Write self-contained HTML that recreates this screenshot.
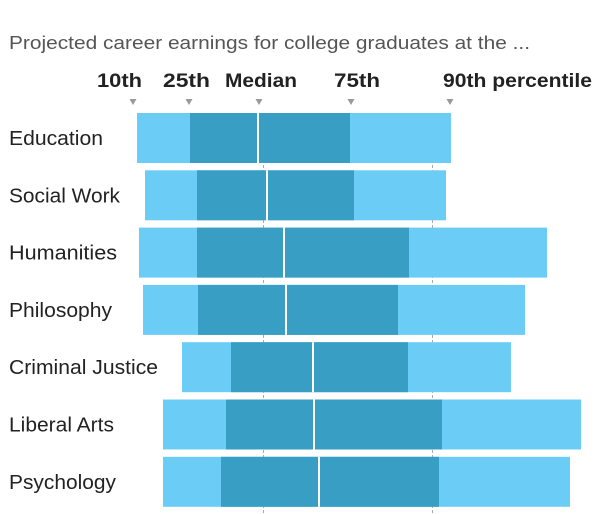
<!DOCTYPE html>
<html><head><style>
body{margin:0;width:600px;height:514px;background:#fff;font-family:"Liberation Sans",sans-serif;overflow:hidden;position:relative}
</style></head><body>
<svg width="600" height="514" style="position:absolute;left:0;top:0" font-family="Liberation Sans, sans-serif">
<text x="9" y="49" font-size="18" fill="#555" textLength="521" lengthAdjust="spacingAndGlyphs">Projected career earnings for college graduates at the ...</text>
<g font-size="19" font-weight="bold" fill="#222">
<text x="97" y="87" textLength="45" lengthAdjust="spacingAndGlyphs">10th</text>
<text x="163" y="87" textLength="47" lengthAdjust="spacingAndGlyphs">25th</text>
<text x="225" y="87" textLength="72" lengthAdjust="spacingAndGlyphs">Median</text>
<text x="334" y="87" textLength="46" lengthAdjust="spacingAndGlyphs">75th</text>
<text x="443" y="87" textLength="149" lengthAdjust="spacingAndGlyphs">90th percentile</text>
</g>
<g fill="#999">
<path d="M129.5,99h7l-3.5,6z"/><path d="M185.5,99h7l-3.5,6z"/><path d="M255.5,99h7l-3.5,6z"/><path d="M347.5,99h7l-3.5,6z"/><path d="M446.5,99h7l-3.5,6z"/>
</g>
<g stroke="#aaa" stroke-dasharray="3,2">
<line x1="263.5" y1="160" x2="263.5" y2="514"/><line x1="432.5" y1="160" x2="432.5" y2="514"/>
</g>
<g id="bars"></g>
<g font-size="20" fill="#222" id="labels"></g>
</svg>
<script>
var d=[["Education",137,190,258,350,451,94],["Social Work",145,197,267,354,446,111],["Humanities",139,197,284,409,547,108],["Philosophy",143,198,286,398,525,103],["Criminal Justice",182,231,313,408,511,149],["Liberal Arts",163,226,314,442,581,105],["Psychology",163,221,319,439,570,107]];
var ns="http://www.w3.org/2000/svg",b=document.getElementById("bars"),l=document.getElementById("labels");
function r(x,y,w,c){var e=document.createElementNS(ns,"rect");e.setAttribute("x",x);e.setAttribute("y",y);e.setAttribute("width",w);e.setAttribute("height",50);e.setAttribute("fill",c);b.appendChild(e);}
d.forEach(function(a,i){var y=113+i*57.3;
r(a[1],y,a[5]-a[1],"#6bcdf5");r(a[2],y,a[4]-a[2],"#389ec4");r(a[3]-1,y,2,"#fff");
var t=document.createElementNS(ns,"text");t.setAttribute("x",9);t.setAttribute("y",y+32);t.setAttribute("textLength",a[6]);t.setAttribute("lengthAdjust","spacingAndGlyphs");t.textContent=a[0];l.appendChild(t);});
</script>
</body></html>
